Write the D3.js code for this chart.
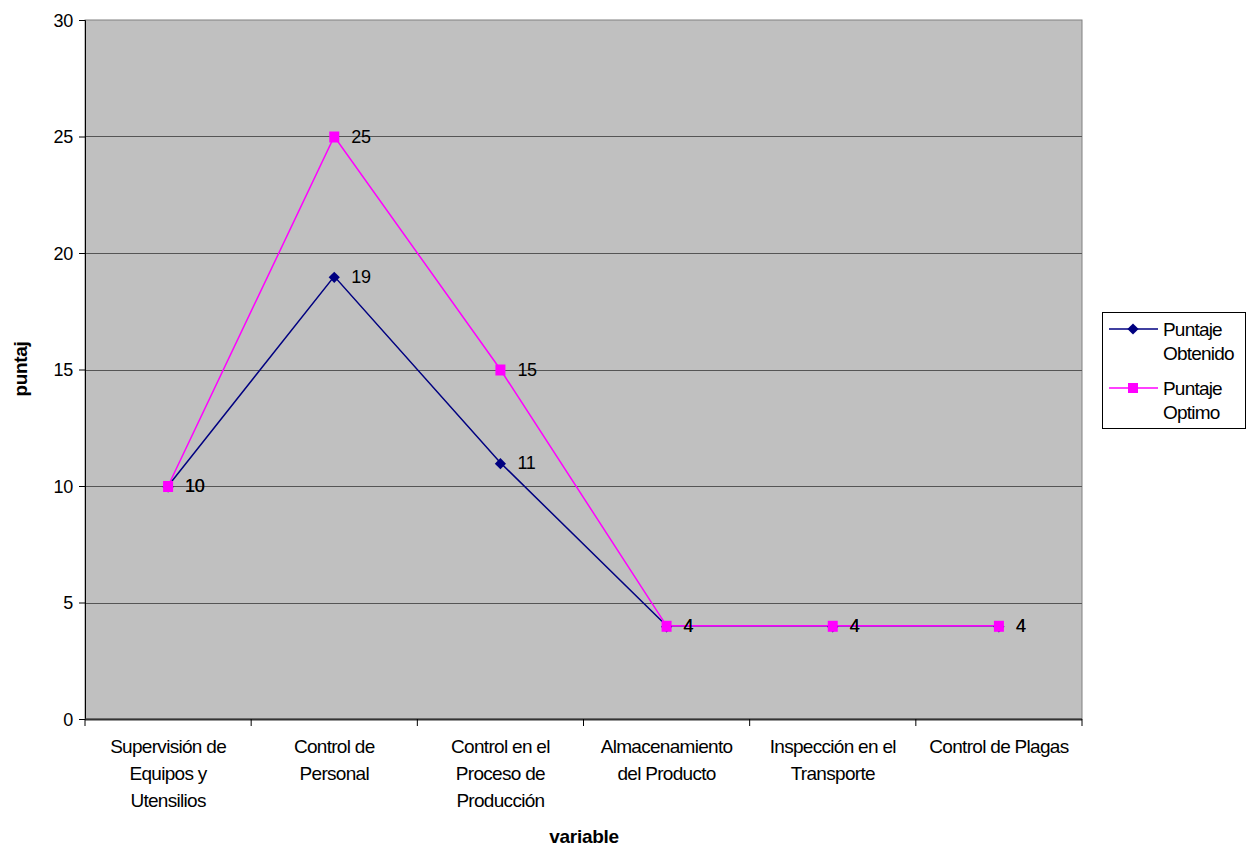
<!DOCTYPE html>
<html>
<head>
<meta charset="utf-8">
<script src="https://cdn.jsdelivr.net/npm/d3@7"></script>
<style>
  html, body { margin: 0; padding: 0; background: #ffffff; }
  svg text { font-family: "Liberation Sans", Arial, sans-serif; }
</style>
</head>
<body>
<svg id="chart" width="1253" height="848"></svg>
<script>
// Category labels (line-broken as shown under the axis)
const categories = [
  ["Supervisión de", "Equipos y", "Utensilios"],
  ["Control de", "Personal"],
  ["Control en el", "Proceso de", "Producción"],
  ["Almacenamiento", "del Producto"],
  ["Inspección en el", "Transporte"],
  ["Control de Plagas"]
];
const obtenido = [10, 19, 11, 4, 4, 4];
const optimo = [10, 25, 15, 4, 4, 4];
const yTicks = [0, 5, 10, 15, 20, 25, 30];
const seriesNames = [["Puntaje", "Obtenido"], ["Puntaje", "Optimo"]];

const svg = d3.select("#chart");
const plot = { left: 85, top: 20, right: 1082, bottom: 719 };

const idx = d3.range(categories.length);
const x = d3.scaleBand().domain(idx).range([plot.left, plot.right]);
const y = d3.scaleLinear().domain([0, 30]).range([plot.bottom, plot.top]);
const cx = i => x(i) + x.bandwidth() / 2;

// Plot background
svg.append("rect")
  .attr("x", plot.left).attr("y", plot.top)
  .attr("width", plot.right - plot.left).attr("height", plot.bottom - plot.top)
  .attr("fill", "#c0c0c0").attr("stroke", "#808080").attr("stroke-width", 1);

// Horizontal gridlines
svg.append("g").selectAll("line")
  .data(yTicks.filter(t => t > 0 && t < 30))
  .join("line")
  .attr("x1", plot.left).attr("x2", plot.right)
  .attr("y1", d => Math.round(y(d)) + 0.5).attr("y2", d => Math.round(y(d)) + 0.5)
  .attr("stroke", "#555555").attr("stroke-width", 1);

// Y axis
const yAxis = d3.axisLeft(y).tickValues(yTicks).tickSize(6).tickPadding(6);
const gy = svg.append("g").attr("transform", `translate(${plot.left},0)`).call(yAxis);
gy.select(".domain").attr("stroke", "#000");
gy.selectAll(".tick line").attr("stroke", "#000");
gy.selectAll(".tick text").attr("font-size", 18).attr("fill", "#000")
  .attr("letter-spacing", "-0.3px").attr("dy", "0.35em");

// X axis with ticks on category boundaries
svg.append("line")
  .attr("x1", plot.left).attr("x2", plot.right)
  .attr("y1", plot.bottom + 0.5).attr("y2", plot.bottom + 0.5)
  .attr("stroke", "#333").attr("stroke-width", 2);
svg.append("g").selectAll("line")
  .data(d3.range(categories.length + 1))
  .join("line")
  .attr("x1", i => i < categories.length ? x(i) : plot.right)
  .attr("x2", i => i < categories.length ? x(i) : plot.right)
  .attr("y1", plot.bottom).attr("y2", plot.bottom + 7)
  .attr("stroke", "#000");

// Category labels
const catG = svg.append("g");
categories.forEach((lines, i) => {
  const t = catG.append("text")
    .attr("x", cx(i)).attr("y", 753)
    .attr("text-anchor", "middle").attr("font-size", 19)
    .attr("letter-spacing", "-0.7px").attr("fill", "#000");
  lines.forEach((ln, k) => {
    t.append("tspan").attr("x", cx(i)).attr("dy", k === 0 ? 0 : 27).text(ln);
  });
});

// Axis titles
svg.append("text")
  .attr("x", 584).attr("y", 843)
  .attr("text-anchor", "middle").attr("font-size", 19).attr("font-weight", "bold")
  .attr("letter-spacing", "-0.3px").text("variable");
svg.append("text")
  .attr("transform", `translate(27,369) rotate(-90)`)
  .attr("text-anchor", "middle").attr("font-size", 19).attr("font-weight", "bold")
  .attr("letter-spacing", "-0.3px").text("puntaj");

// Lines
const line = d3.line().x((d, i) => cx(i)).y(d => y(d));
const colors = { obt: "#000080", opt: "#ff00ff" };

svg.append("path").datum(obtenido).attr("d", line)
  .attr("fill", "none").attr("stroke", colors.obt).attr("stroke-width", 1.5);
svg.append("path").datum(optimo).attr("d", line)
  .attr("fill", "none").attr("stroke", colors.opt).attr("stroke-width", 1.5);

// Markers: diamonds for obtained, squares for optimum
const diamond = d3.symbol().type(d3.symbolDiamond2).size(80);
svg.append("g").selectAll("path")
  .data(obtenido).join("path")
  .attr("d", diamond)
  .attr("transform", (d, i) => `translate(${cx(i)},${y(d) + 1})`)
  .attr("fill", colors.obt);
svg.append("g").selectAll("rect")
  .data(optimo).join("rect")
  .attr("x", (d, i) => cx(i) - 5).attr("y", d => y(d) - 5)
  .attr("width", 10).attr("height", 11)
  .attr("fill", colors.opt);

// Value labels
function labels(data) {
  svg.append("g").selectAll("text")
    .data(data).join("text")
    .attr("x", (d, i) => cx(i) + 17).attr("y", d => y(d))
    .attr("dy", "0.36em").attr("font-size", 18).attr("fill", "#000")
    .attr("letter-spacing", "-0.3px")
    .text(d => d);
}
labels(obtenido);
labels(optimo);

// Legend
const lg = svg.append("g");
lg.append("rect").attr("x", 1102.5).attr("y", 312.5).attr("width", 143).attr("height", 116)
  .attr("fill", "#fff").attr("stroke", "#000").attr("stroke-width", 1);
const legendRows = [
  { name: seriesNames[0], color: colors.obt, kind: "diamond", y: 329 },
  { name: seriesNames[1], color: colors.opt, kind: "square", y: 388 }
];
legendRows.forEach(r => {
  lg.append("line").attr("x1", 1109).attr("x2", 1158).attr("y1", r.y).attr("y2", r.y)
    .attr("stroke", r.color).attr("stroke-width", 1.5);
  if (r.kind === "diamond") {
    lg.append("path").attr("d", diamond).attr("transform", `translate(1133,${r.y})`).attr("fill", r.color);
  } else {
    lg.append("rect").attr("x", 1128).attr("y", r.y - 5).attr("width", 10).attr("height", 10).attr("fill", r.color);
  }
  const t = lg.append("text").attr("x", 1163).attr("y", r.y)
    .attr("font-size", 19).attr("letter-spacing", "-0.8px").attr("fill", "#000");
  r.name.forEach((ln, k) => t.append("tspan").attr("x", 1163).attr("dy", k === 0 ? "0.36em" : 24).text(ln));
});
</script>
</body>
</html>
